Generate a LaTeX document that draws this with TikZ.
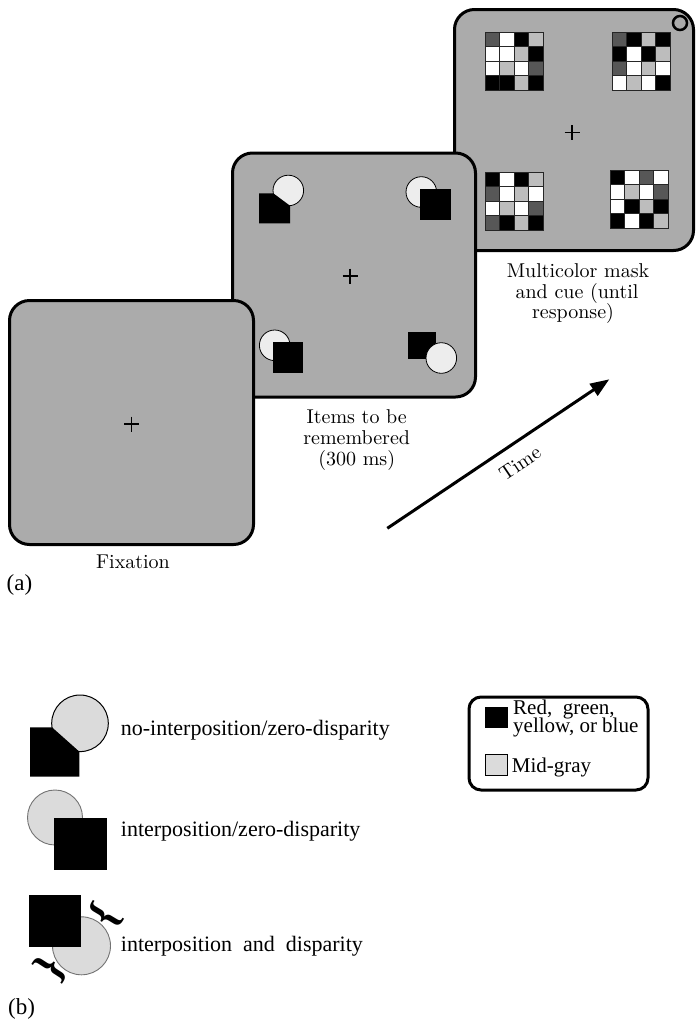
\documentclass[tikz,border=0pt]{standalone}
\usepackage{fontspec}
\newfontfamily\tmsfont{Liberation Serif}
\newfontfamily\lmtenfont{lmroman10-regular}[Extension=.otf]
\usetikzlibrary{arrows.meta}
\definecolor{panelgray}{gray}{0.67}
\definecolor{dotgray}{gray}{0.93}
\definecolor{leggray}{gray}{0.86}
\definecolor{cdark}{gray}{0.34}
\definecolor{clight}{gray}{0.74}
\newcommand\mycapfont{\lmtenfont\fontsize{20}{21}\selectfont}
\newcommand\mybfont{\tmsfont\fontsize{22}{24}\selectfont}
\newcommand\mykeyfont{\tmsfont\fontsize{21}{17}\selectfont}
\newcommand\mylabfont{\tmsfont\fontsize{23}{25}\selectfont}
\newcommand\mybracefont{\tmsfont\bfseries\fontsize{44}{44}\selectfont}
\newcommand\maskgrid[3]{%
  \foreach \cc [count=\ii from 0] in {#3} {%
    \pgfmathtruncatemacro\gcol{mod(\ii,4)}%
    \pgfmathtruncatemacro\grow{\ii/4}%
    \filldraw[fill=\cc,draw=black!85,line width=0.8pt] (#1+\gcol*14.5,#2+\grow*14.5) rectangle ++(14.5,14.5);
  }%
  \draw[black!85,line width=1pt] (#1,#2) rectangle ++(58,58);
}
\tikzset{
  panel/.style={draw=black,line width=3pt,fill=panelgray,rounded corners=20pt,inner sep=0pt},
  plussign/.pic={\draw[line width=1.4pt] (-7.5,0) -- (7.5,0) (0,-7.5) -- (0,7.5);},
  dot/.style={fill=dotgray,draw=black,line width=0.8pt},
  legdot/.style={fill=leggray,draw=black!55,line width=0.9pt},
  captxt/.style={font=\mycapfont,anchor=base,inner sep=0pt},
  btxt/.style={font=\mybfont,anchor=base west,inner sep=0pt},
  ktxt/.style={font=\mykeyfont,anchor=base west,inner sep=0pt},
}
\begin{document}
\begin{tikzpicture}[x=1pt,y=-1pt]
\useasboundingbox (0,0) rectangle (696,1021);
% ---- panel 3: mask and cue
\node[panel,minimum width=239pt,minimum height=241pt] (mask) at (574,130) {};
\maskgrid{485}{32}{cdark,white,black,clight,white,white,clight,black,white,clight,white,cdark,black,black,clight,black}
\maskgrid{612}{32}{cdark,black,clight,black,black,white,black,clight,cdark,white,clight,white,white,clight,white,black}
\maskgrid{485}{172}{black,white,black,clight,cdark,white,clight,white,white,clight,white,cdark,cdark,black,clight,black}
\maskgrid{610}{170}{black,white,cdark,white,white,clight,white,cdark,white,black,clight,black,black,white,black,clight}
\node[draw,line width=2.5pt,circle,fill=panelgray,minimum size=14pt,inner sep=0pt] (cue) at (680,23) {};
\pic at (572,132.5) {plussign};
% ---- panel 2: items
\node[panel,minimum width=243pt,minimum height=244pt] (items) at (354,275) {};
\filldraw[dot] (288.3,190.5) circle[radius=15.3pt];
\fill (259,193.3) -- (273.3,193.3) -- (290,205.7) -- (290,223.3) -- (259,223.3) -- cycle;
\filldraw[dot] (421.3,192) circle[radius=15.3pt];
\fill (420,189.3) rectangle (450.7,220);
\filldraw[dot] (274.7,345.3) circle[radius=15.3pt];
\fill (272.7,342.3) rectangle (303.3,372.7);
\fill (408.3,331.7) rectangle (435.7,359.3);
\filldraw[dot] (441.3,358) circle[radius=15.3pt];
\pic at (350,276) {plussign};
% ---- panel 1: fixation
\node[panel,minimum width=244pt,minimum height=244pt] (fix) at (131.5,422.5) {};
\pic at (131.7,424) {plussign};
% ---- captions
\node[captxt] (capfix) at (133,568) {Fixation};
\node[captxt] (capit1) at (356.7,423) {Items to be};
\node[captxt] (capit2) at (356.7,444.5) {remembered};
\node[captxt] (capit3) at (356.7,465.5) {(300 ms)};
\node[captxt] (capm1) at (578,277) {Multicolor mask};
\node[captxt] (capm2) at (577,298) {and cue (until};
\node[captxt] (capm3) at (573,318.5) {response)};
\node[font=\mylabfont,anchor=base west,inner sep=0pt] (laba) at (6.5,590) {(a)};
% ---- time arrow
\coordinate (tstart) at (387.3,528.3);
\coordinate (tend) at (609.3,379.3);
\draw[line width=3pt,-{Triangle[length=19pt,width=14pt]}] (tstart) -- (tend);
\node[font=\mycapfont,rotate=34,inner sep=0pt] (timelbl) at (520,463) {Time};
% ---- part (b)
\filldraw[fill=leggray,draw=black,line width=1pt] (80,723.3) circle[radius=28.3pt];
\fill (30,727.3) -- (52,727.3) -- (79.3,751.6) -- (79.3,776.5) -- (30,776.5) -- cycle;
\node[btxt] (t1) at (120.7,735) {no-interposition/zero-disparity};
\filldraw[legdot] (55,817.5) circle[radius=27.5pt];
\fill (54.3,818.3) rectangle (106.7,870);
\node[btxt] (t2) at (120.7,836.7) {interposition/zero-disparity};
\filldraw[legdot] (81.5,945.8) circle[radius=29pt];
\fill (28.5,895) rectangle (80.7,946.5);
\node[btxt] (t3) at (120.7,951.7) {interposition\ \ and\ \ disparity};
\node[font=\mybracefont,rotate=59,inner sep=0pt] (br1) at (105,916) {\{};
\node[font=\mybracefont,rotate=57,inner sep=0pt] (br2) at (51,969) {\}};
\node[font=\mylabfont,anchor=base west,inner sep=0pt] (labb) at (8,1014) {(b)};
% ---- key
\node[draw,line width=3pt,rounded corners=12pt,minimum width=179pt,minimum height=93pt,inner sep=0pt] (key) at (558.5,743.5) {};
\fill (485,706.7) rectangle (508.3,728.3);
\node[ktxt] (k1) at (513,714) {Red,\ \ green,};
\node[ktxt] (k2) at (513,732) {yellow, or blue};
\filldraw[fill=leggray,draw=black,line width=0.8pt] (485,754) rectangle (507,775);
\node[ktxt] (k3) at (511.7,772) {Mid-gray};
\end{tikzpicture}
\end{document}
